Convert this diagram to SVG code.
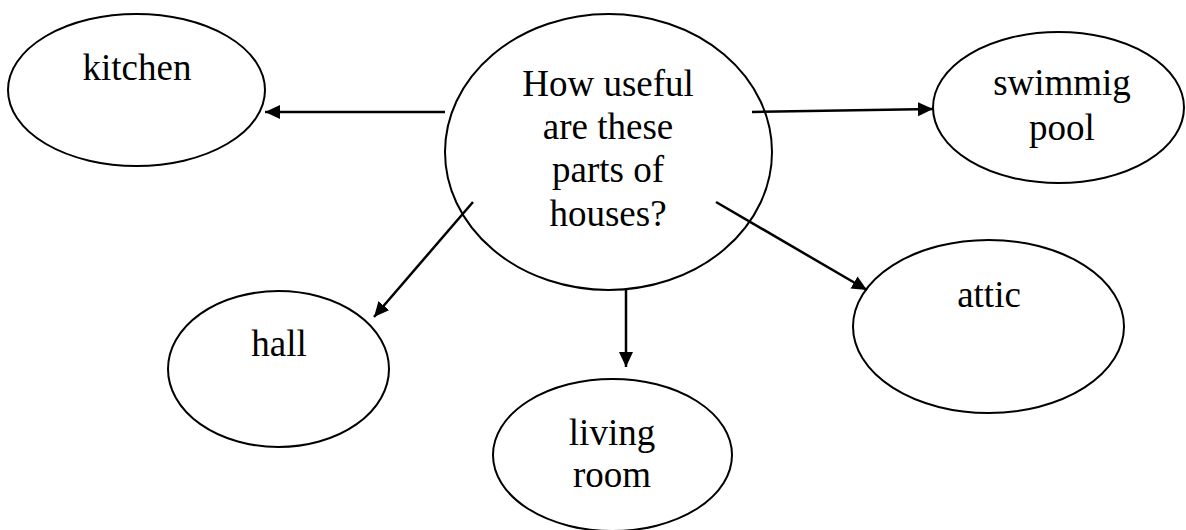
<svg xmlns="http://www.w3.org/2000/svg" width="1186" height="530" viewBox="0 0 1186 530">
<style>
.n ellipse{fill:#fff;stroke:#000;stroke-width:2}
.n text{font-family:"Liberation Serif","Times New Roman",serif;font-size:37px;fill:#000;text-anchor:middle}
.c line{stroke:#000;stroke-width:2.5;fill:none;marker-end:url(#ah)}
</style>
<defs>
<marker id="ah" markerUnits="userSpaceOnUse" markerWidth="16" markerHeight="16" refX="15" refY="7" orient="auto">
<path d="M0,0 L15,7 L0,14 Z" fill="#000"/>
</marker>
</defs>
<rect width="1186" height="530" fill="#fff"/>
<g id="center" class="n">
<ellipse cx="608.5" cy="152" rx="163.5" ry="138"/>
<text x="608" y="96">How useful</text>
<text x="608" y="139">are these</text>
<text x="608" y="182">parts of</text>
<text x="608" y="226">houses?</text>
</g>
<g id="kitchen" class="n">
<ellipse cx="136.5" cy="90" rx="128.5" ry="76"/>
<text x="137" y="80">kitchen</text>
</g>
<g id="swimming" class="n">
<ellipse cx="1058.5" cy="107.5" rx="125.5" ry="75.5"/>
<text x="1062" y="95">swimmig</text>
<text x="1062" y="140">pool</text>
</g>
<g id="attic" class="n">
<ellipse cx="988.5" cy="326.5" rx="135.5" ry="86.5"/>
<text x="989" y="307">attic</text>
</g>
<g id="hall" class="n">
<ellipse cx="278.5" cy="369" rx="110.5" ry="78"/>
<text x="279" y="356">hall</text>
</g>
<g id="living" class="n">
<ellipse cx="612.5" cy="455" rx="119.5" ry="76"/>
<text x="612" y="445">living</text>
<text x="612" y="487">room</text>
</g>
<g id="connectors" class="c">
<line x1="445" y1="112" x2="265" y2="112"/>
<line x1="752" y1="112" x2="933" y2="109"/>
<line x1="716" y1="202" x2="867" y2="290"/>
<line x1="473" y1="202" x2="374" y2="317"/>
<line x1="626" y1="290" x2="626" y2="367"/>
</g>
</svg>
